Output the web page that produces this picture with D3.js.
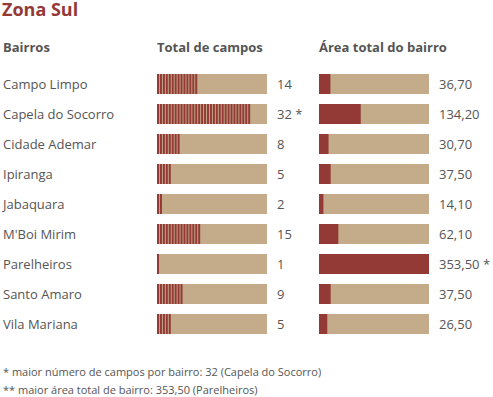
<!DOCTYPE html>
<html><head><meta charset="utf-8">
<script src="https://cdn.jsdelivr.net/npm/d3@7"></script>
<style>body{margin:0;background:#fff}svg{display:block;font-family:"Open Sans","Noto Sans",sans-serif}</style>
</head><body><svg id="c" width="493" height="397"></svg>
<script>
const bairros = ["Campo Limpo","Capela do Socorro","Cidade Ademar","Ipiranga","Jabaquara","M'Boi Mirim","Parelheiros","Santo Amaro","Vila Mariana"];
const campos = [14,32,8,5,2,15,1,9,5];
const areas = [36.70,134.20,30.70,37.50,14.10,62.10,353.50,37.50,26.50];
const camposLabels = ["14","32 *","8","5","2","15","1","9","5"];
const areaLabels = ["36,70","134,20","30,70","37,50","14,10","62,10","353,50 *","37,50","26,50"];
const headers = ["Bairros","Total de campos","Área total do bairro"];
const title = "Zona Sul";
const notes = ["* maior número de campos por bairro: 32 (Capela do Socorro)","** maior área total de bairro: 353,50 (Parelheiros)"];

const red = "#933a37", tan = "#c4ab89", txt = "#555";
const svg = d3.select("#c");
const y = d3.scaleBand().domain(bairros).range([74, 344]).paddingInner(1/3).paddingOuter(0);
// band step 30, bandwidth 20
const yb = d3.scaleBand().domain(bairros).range([74, 74+30*9]).paddingInner(0.3333).paddingOuter(0);
const xC = d3.scaleLinear().domain([0, 37.4]).range([157, 267]);
const xA = d3.scaleLinear().domain([0, 353.5]).range([319, 429]);
const bw = 20;
const yy = d => 74 + bairros.indexOf(d)*30;

svg.append("text").attr("x",2).attr("y",16).attr("fill",red).attr("font-size",18).attr("font-weight",700).text(title);
const hx = [3,157,319];
headers.forEach((h,i)=>svg.append("text").attr("x",hx[i]).attr("y",52).attr("fill",txt).attr("font-size",13).attr("font-weight",700).text(h));

const rows = svg.selectAll("g.row").data(bairros).join("g").attr("class","row").attr("transform",d=>`translate(0,${yy(d)})`);
rows.append("text").attr("x",3).attr("y",15).attr("fill",txt).attr("font-size",13).text(d=>d);
rows.append("rect").attr("x",xC(0)).attr("width",xC.range()[1]-xC(0)).attr("height",bw).attr("fill",tan);
rows.each(function(d,i){
  const g = d3.select(this);
  g.selectAll("rect.s").data(d3.range(campos[i])).join("rect").attr("class","s")
    .attr("x",k=>xC(k)).attr("width",2).attr("height",bw).attr("fill",red);
});
rows.append("text").attr("x",277).attr("y",15).attr("fill",txt).attr("font-size",13).text((d,i)=>camposLabels[i]);
rows.append("rect").attr("x",xA(0)).attr("width",xA.range()[1]-xA(0)).attr("height",bw).attr("fill",tan);
rows.append("rect").attr("x",xA(0)).attr("width",(d,i)=>xA(areas[i])-xA(0)).attr("height",bw).attr("fill",red);
rows.append("text").attr("x",439).attr("y",15).attr("fill",txt).attr("font-size",13).text((d,i)=>areaLabels[i]);

notes.forEach((n,i)=>svg.append("text").attr("x",3).attr("y",376+i*18).attr("fill",txt).attr("font-size",11).text(n));
</script></body></html>
